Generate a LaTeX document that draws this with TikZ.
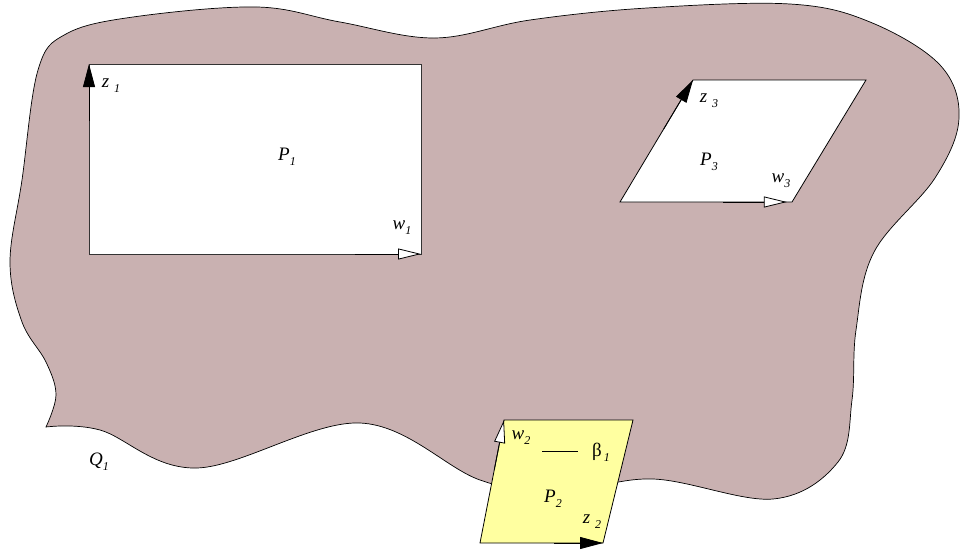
\documentclass[tikz,border=0pt]{standalone}
\usepackage{fontspec}
\setmainfont{Liberation Serif}
\usetikzlibrary{arrows.meta, calc, positioning}

\definecolor{regionfill}{RGB}{201,177,177}
\definecolor{patchyellow}{RGB}{255,255,160}

% letter with a lowered small subscript, optional gap between them
\newcommand{\sublbl}[3][0pt]{#2\hspace{#1}\raisebox{-0.6ex}{\fontsize{12}{12}\selectfont\itshape #3}}

\begin{document}
\begin{tikzpicture}[x=1pt, y=-1pt, font=\fontsize{19}{21}\selectfont,
    region/.style={draw=black, line width=0.7pt, fill=regionfill},
    patch/.style={draw=black!80, line width=0.8pt, fill=white},
    solidtip/.style={draw=black, line width=0.8pt, -{Triangle[length=23pt, width=12pt]}},
    opentip/.style={draw=black, line width=0.8pt, -{Triangle[open, length=23pt, width=11pt, fill=white]}},
    lbl/.style={inner sep=0pt}]
    \useasboundingbox (0,0) rectangle (960,549);

    % the region Q_1
    \draw[region] plot[smooth, tension=0.6] coordinates {
        (46,427) (100,430) (197,468) (360,423) (480,480) (560,492) (653,479)
        (773,499) (838,462) (852,400) (856,330) (874,252) (935,178) (959,118)
        (940,65) (870,22) (790,4) (647,8) (530,20) (435,38) (340,22) (257,7)
        (133,17) (66,34) (38,70) (22,180) (10,262) (22,322) (46,362) (56,395) (46,427)} -- cycle;

    % corners of the patches
    \coordinate (p1sw) at (89,254);
    \coordinate (p1se) at (421,254);
    \coordinate (p1ne) at (421,64);
    \coordinate (p1nw) at (89,64);
    \coordinate (p3sw) at (620,202);
    \coordinate (p3se) at (792,202);
    \coordinate (p3ne) at (866,80);
    \coordinate (p3nw) at (693,80);
    \coordinate (p2sw) at (480,543);
    \coordinate (p2se) at (603,543);
    \coordinate (p2ne) at (633,420);
    \coordinate (p2nw) at (504,420);

    \draw[patch] (p1sw) -- (p1se) -- (p1ne) -- (p1nw) -- cycle;
    \draw[patch, draw=black] (p3sw) -- (p3se) -- (p3ne) -- (p3nw) -- cycle;
    \draw[patch, draw=black, fill=patchyellow] (p2sw) -- (p2se) -- (p2ne) -- (p2nw) -- cycle;

    % edge directions
    \draw[solidtip] ($(p1nw)!0.3!(p1sw)$) -- (p1nw);
    \draw[opentip] ($(p1se)!0.2!(p1sw)$) -- (p1se);
    \draw[solidtip] ($(p3nw)!0.4!(p3sw)$) -- (p3nw);
    \draw[opentip] ($(p3se)!0.4!(p3sw)$) -- ($(p3se)!0.03!(p3sw)$);
    \draw[opentip] ($(p2nw)!0.4!(p2sw)$) -- (p2nw);
    \draw[solidtip] ($(p2se)!0.4!(p2sw)$) -- (p2se);

    % labels
    \node[lbl] (z1lab) at (111,86) {\sublbl[5pt]{\textit{z}}{1}};
    \node[lbl] (w1lab) at (402,228) {\sublbl{\textit{w}}{1}};
    \node[lbl] (p1lab) at (287,157) {\sublbl{\textit{P}}{1}};
    \node[lbl] (z3lab) at (709,101) {\sublbl[5pt]{\textit{z}}{3}};
    \node[lbl] (p3lab) at (709,162) {\sublbl{\textit{P}}{3}};
    \node[lbl] (w3lab) at (781,181) {\sublbl{\textit{w}}{3}};
    \node[lbl] (w2lab) at (521,438) {\sublbl{\textit{w}}{2}};
    \node[lbl] (b1lab) at (601,452) {\sublbl[2pt]{β}{1}};
    \node[lbl] (p2lab) at (553,499) {\sublbl{\textit{P}}{2}};
    \node[lbl] (z2lab) at (592,522) {\sublbl[5pt]{\textit{z}}{2}};
    \node[lbl] (q1lab) at (99,462) {\sublbl{\textit{Q}}{1}};

    \coordinate (tiel) at (542,451);
    \coordinate (tier) at (578,451);
    \draw[line width=0.8pt] (tiel) -- (tier);
\end{tikzpicture}
\end{document}
